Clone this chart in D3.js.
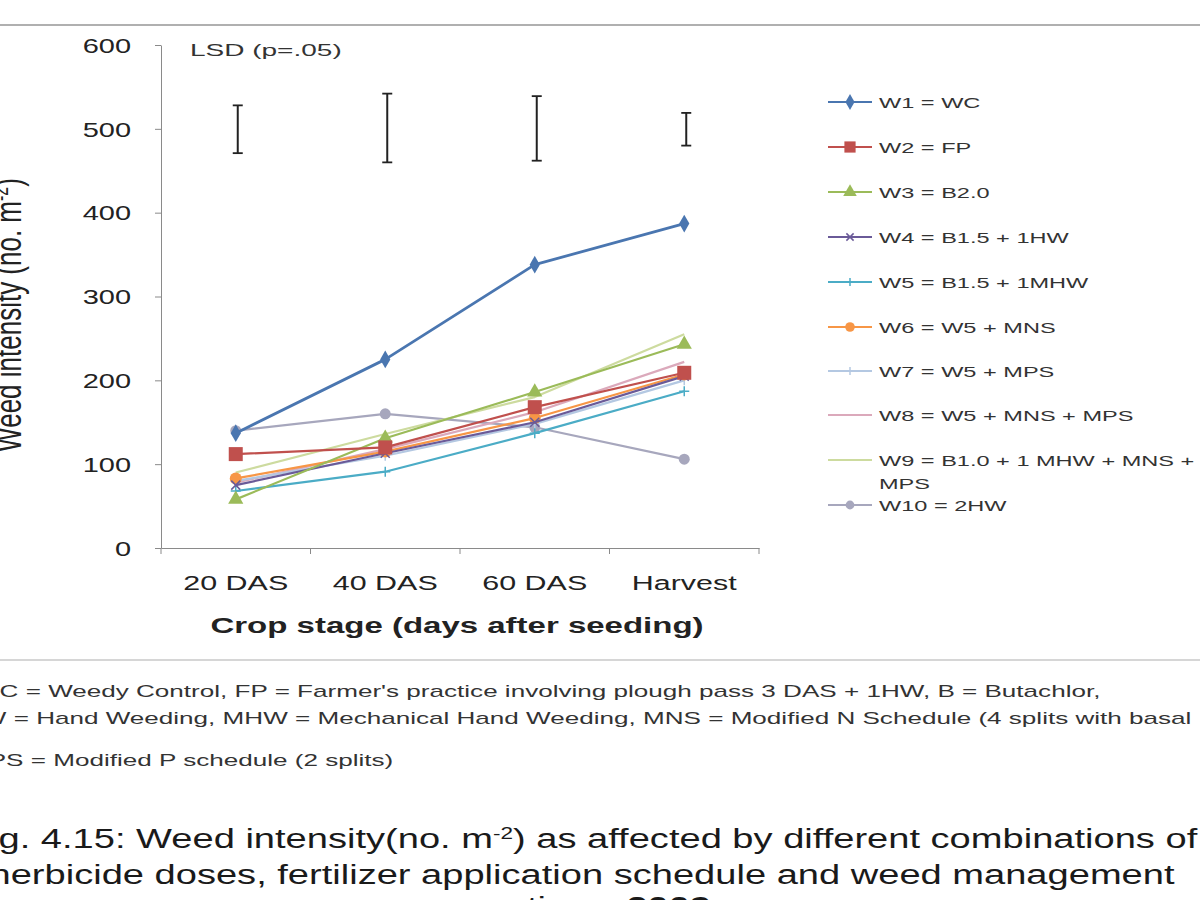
<!DOCTYPE html>
<html>
<head>
<meta charset="utf-8">
<script src="https://cdn.jsdelivr.net/npm/d3@7"></script>
<style>
  html, body { margin: 0; padding: 0; background: #fff; overflow: hidden; }
  svg { display: block; }
  text { font-family: "Liberation Sans", Arial, sans-serif; }
</style>
</head>
<body>
<svg id="chart" width="1200" height="900"></svg>
<script>
// ---------------- data ----------------
const categories = ["20 DAS", "40 DAS", "60 DAS", "Harvest"];
const seriesNames = ["W1 = WC", "W2 = FP", "W3 = B2.0", "W4 = B1.5 + 1HW", "W5 = B1.5 + 1MHW",
  "W6 = W5 + MNS", "W7 = W5 + MPS", "W8 = W5 + MNS + MPS", "W9 = B1.0 + 1 MHW + MNS +", "W10 = 2HW"];
const W1 = [137, 225, 338, 387];
const W2 = [112, 120, 168, 209];
const W3 = [58, 131, 186, 243];
const W4 = [75, 113, 150, 205];
const W5 = [68, 91, 137, 187];
const W6 = [83, 115, 155, 207];
const W7 = [80, 110, 148, 200];
const W8 = [78, 118, 162, 222];
const W9 = [90, 136, 180, 255];
const W10 = [140, 160, 144, 106];
const lsdLow = [471, 460, 462, 480];
const lsdHigh = [528, 542, 539, 519];
const yTicks = [0, 100, 200, 300, 400, 500, 600];
const footnotes = [
  "WC = Weedy Control, FP = Farmer's practice involving plough pass 3 DAS + 1HW, B = Butachlor,",
  "HW = Hand Weeding, MHW = Mechanical Hand Weeding, MNS = Modified N Schedule (4 splits with basal",
  "MPS = Modified P schedule (2 splits)"
];
const captionLines = [
  ["Fig. 4.15: Weed intensity(no. m", "-2", ") as affected by different combinations of"],
  ["herbicide doses, fertilizer application schedule and weed management"],
  ["practices, ", "2009"]
];

const allSeries = [W1, W2, W3, W4, W5, W6, W7, W8, W9, W10];
const colors = ["#4a76b0", "#c0504d", "#9bbb59", "#6a5a98", "#4bacc6", "#f79646", "#b4c8e2", "#dba9bb", "#cddb9f", "#a7a7bd"];
const markers = ["diamond", "square", "triangle", "times", "asterisk", "circle", "vbar", "none", "none", "dot"];

// ---------------- layout ----------------
const svg = d3.select("#chart");
const SX = 1.45; // horizontal stretch of the source image
const x0 = 161, x1 = 759, yTop = 45, yBot = 548;

const x = d3.scaleBand().domain(categories).range([x0, x1]).padding(0);
const y = d3.scaleLinear().domain([0, 600]).range([yBot, yTop]);
const cx = c => x(c) + x.bandwidth() / 2;

// frame lines
svg.append("line").attr("x1", 0).attr("x2", 1200).attr("y1", 25).attr("y2", 25)
  .attr("stroke", "#b0b0b0").attr("stroke-width", 2);
svg.append("line").attr("x1", 0).attr("x2", 1200).attr("y1", 660).attr("y2", 660)
  .attr("stroke", "#c8c8c8").attr("stroke-width", 1.5);

function sText(parent, tx, ty, str, size, opts = {}) {
  const g = parent.append("g").attr("transform", `translate(${tx},${ty}) scale(${opts.sx || SX},1)`);
  const t = g.append("text").attr("x", 0).attr("y", 0)
    .attr("font-size", size)
    .attr("font-weight", opts.weight || "normal")
    .attr("fill", opts.fill || "#222")
    .attr("text-anchor", opts.anchor || "start")
    .text(str);
  return t;
}

// y axis
const yAxis = svg.append("g").attr("transform", `translate(${x0},0)`)
  .call(d3.axisLeft(y).tickValues(yTicks).tickSize(6).tickSizeOuter(0));
yAxis.select(".domain").attr("stroke", "#8a8a8a");
yAxis.selectAll(".tick line").attr("stroke", "#8a8a8a");
yAxis.selectAll(".tick text")
  .attr("font-size", 20).attr("fill", "#222")
  .attr("font-family", "Liberation Sans, Arial, sans-serif")
  .attr("x", -30 / SX).attr("dy", "0.36em")
  .attr("transform", `scale(${SX},1)`);

// x axis
const xAxis = svg.append("g").attr("transform", `translate(0,${yBot})`)
  .call(d3.axisBottom(x).tickSize(0).tickPadding(0));
xAxis.select(".domain").attr("stroke", "#8a8a8a");
xAxis.selectAll(".tick text")
  .attr("font-size", 21).attr("fill", "#222")
  .attr("font-family", "Liberation Sans, Arial, sans-serif")
  .attr("y", 42).attr("dy", 0)
  .attr("transform", `scale(${SX},1)`);
const bounds = categories.map(c => x(c)).concat([x1]);
svg.append("g").selectAll("line").data(bounds).join("line")
  .attr("x1", d => d).attr("x2", d => d).attr("y1", yBot).attr("y2", yBot + 6)
  .attr("stroke", "#8a8a8a");

// axis titles
sText(svg, 457, 633, "Crop stage (days after seeding)", 22, { anchor: "middle", weight: "bold", sx: 1.5 });
{
  const g = svg.append("g").attr("transform", `translate(21,315) rotate(-90) scale(1,${SX})`);
  const t = g.append("text").attr("text-anchor", "middle").attr("font-size", 26).attr("fill", "#222");
  t.append("tspan").text("Weed intensity (no. m");
  t.append("tspan").attr("baseline-shift", "super").attr("font-size", 16).text("-2");
  t.append("tspan").text(")");
}

// LSD bars
sText(svg, 190, 56, "LSD (p=.05)", 16, { fill: "#333", sx: 1.75 });
const lsdG = svg.append("g");
categories.forEach((c, i) => {
  const xc = cx(c) + 2;
  lsdG.append("line").attr("x1", xc).attr("x2", xc).attr("y1", y(lsdLow[i])).attr("y2", y(lsdHigh[i]))
    .attr("stroke", "#222").attr("stroke-width", 2);
  [lsdLow[i], lsdHigh[i]].forEach(v => lsdG.append("line")
    .attr("x1", xc - 5).attr("x2", xc + 5).attr("y1", y(v)).attr("y2", y(v))
    .attr("stroke", "#222").attr("stroke-width", 1.8));
});

// markers
function drawMarker(g, type, color, px, py, scale = 1) {
  const s = scale;
  if (type === "none") return;
  if (type === "diamond") {
    g.append("path").attr("d", d3.symbol(d3.symbolDiamond, 90 * s)()).attr("transform", `translate(${px},${py})`).attr("fill", color);
  } else if (type === "square") {
    g.append("rect").attr("x", px - 7 * s).attr("y", py - 7 * s).attr("width", 14 * s).attr("height", 14 * s).attr("fill", color);
  } else if (type === "triangle") {
    g.append("path").attr("d", d3.symbol(d3.symbolTriangle, 100 * s)()).attr("transform", `translate(${px},${py})`).attr("fill", color);
  } else if (type === "circle") {
    g.append("circle").attr("cx", px).attr("cy", py).attr("r", 6 * s).attr("fill", color);
  } else if (type === "dot") {
    g.append("circle").attr("cx", px).attr("cy", py).attr("r", 5.5 * s).attr("fill", color);
  } else if (type === "times") {
    const r = 4.5 * s;
    g.append("path").attr("d", `M${px - r},${py - r}L${px + r},${py + r}M${px - r},${py + r}L${px + r},${py - r}`)
      .attr("stroke", color).attr("stroke-width", 1.5);
  } else if (type === "asterisk") {
    const r = 5 * s;
    g.append("path").attr("d", `M${px - r},${py}L${px + r},${py}M${px},${py - r}L${px},${py + r}`)
      .attr("stroke", color).attr("stroke-width", 1.5);
  } else if (type === "vbar") {
    const r = 5 * s;
    g.append("path").attr("d", `M${px},${py - r}L${px},${py + r}`).attr("stroke", color).attr("stroke-width", 1.5);
  }
}

// series lines
const line = d3.line().x((d, i) => cx(categories[i])).y(d => y(d));
const drawOrder = [9, 8, 7, 6, 5, 4, 3, 2, 1, 0];
const seriesG = svg.append("g");
drawOrder.forEach(k => {
  const vals = allSeries[k];
  seriesG.append("path").datum(vals).attr("d", line)
    .attr("fill", "none").attr("stroke", colors[k]).attr("stroke-width", k === 0 ? 2.8 : 2.2)
    .attr("stroke-linejoin", "round");
  vals.forEach((v, i) => drawMarker(seriesG, markers[k], colors[k], cx(categories[i]), y(v)));
});

// legend
const legendY = [102, 147, 192, 237, 282, 327, 371, 415, 460, 505];
const leg = svg.append("g");
seriesNames.forEach((name, k) => {
  const ly = legendY[k];
  leg.append("line").attr("x1", 828).attr("x2", 872).attr("y1", ly).attr("y2", ly)
    .attr("stroke", colors[k]).attr("stroke-width", 2.2);
  drawMarker(leg, markers[k], colors[k], 850, ly, 0.8);
  sText(leg, 879, ly + 6, name, 15, { fill: "#333", sx: 1.57 });
});
sText(leg, 879, 489, "MPS", 15, { fill: "#333", sx: 1.57 });

// footnotes
const fnY = [697, 724, 766];
const fnStart = [-25, -37, -33];
footnotes.forEach((f, i) => sText(svg, fnStart[i], fnY[i], f, 16, { fill: "#333", sx: 1.63 }));

// caption
const capY = [848, 884, 916];
captionLines.forEach((parts, i) => {
  const g = svg.append("g").attr("transform", `translate(582,${capY[i]}) scale(1.41,1)`);
  const t = g.append("text").attr("text-anchor", "middle").attr("font-size", 27).attr("fill", "#1a1a1a");
  parts.forEach((p, j) => {
    const ts = t.append("tspan").text(p);
    if (i === 0 && j === 1) ts.attr("baseline-shift", "super").attr("font-size", 16);
    if (i === 2 && j === 1) ts.attr("font-weight", "bold");
  });
});
</script>
</body>
</html>
